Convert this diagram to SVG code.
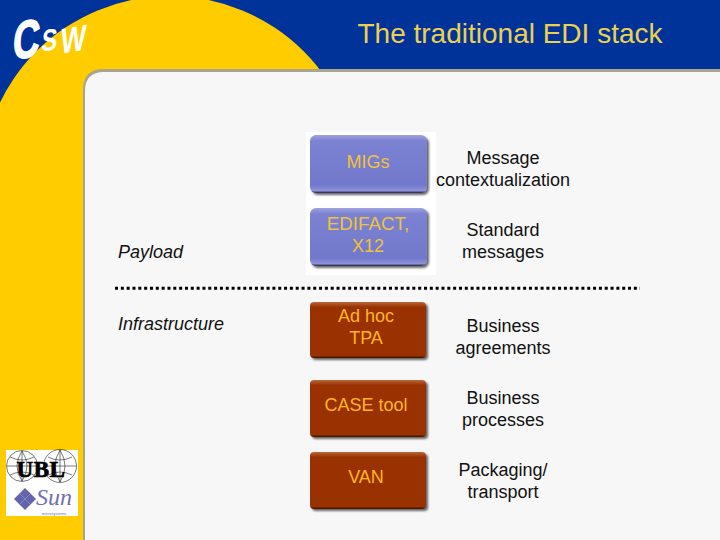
<svg xmlns="http://www.w3.org/2000/svg" width="720" height="540" viewBox="0 0 720 540">
<style>
text{font-family:"Liberation Sans",Arial,sans-serif;font-size:18px;text-anchor:middle;fill:#111}
.k{fill:#eec23c}
.o{fill:#ffb428}
.l{text-anchor:start;font-style:italic}
.g{fill:none;stroke:#222;stroke-width:.6}
.b{filter:url(#s)}
.c{font-weight:bold;text-anchor:start;fill:#fff}
</style>
<defs>
<linearGradient id="bl" x1="0" y1="0" x2="0" y2="1"><stop offset="0" stop-color="#9ea3de"/><stop offset=".1" stop-color="#7c82d2"/><stop offset=".86" stop-color="#7278cc"/><stop offset=".96" stop-color="#8d93da"/><stop offset="1" stop-color="#1e2040"/></linearGradient>
<linearGradient id="br" x1="0" y1="0" x2="0" y2="1"><stop offset="0" stop-color="#b8683c"/><stop offset=".09" stop-color="#993300"/><stop offset=".96" stop-color="#993300"/><stop offset="1" stop-color="#301000"/></linearGradient>
<filter id="s" x="-10%" y="-10%" width="125%" height="130%"><feDropShadow dx="2" dy="2" stdDeviation="1.2" flood-color="#000" flood-opacity=".6"/></filter>
</defs>
<g id="background">
<rect width="720" height="540" fill="#003399"/>
<circle cx="170" cy="185" r="189" fill="#ffcc00"/>
<rect x="0" y="103" width="100" height="437" fill="#ffcc00"/>
<path d="M83 540V90Q83 69 104 69H720V540Z" fill="#a8a490"/>
<path d="M85 540V91Q85 72 104 72H720V540Z" fill="#f7f7f7"/>
<rect x="306" y="132" width="130" height="143" fill="#fff"/>
</g>
<g id="logo-csw">
<text class="c" transform="translate(12 60) rotate(-10) skewX(-14) scale(.72 1)" style="font-size:52px;stroke:#fff;stroke-width:1.500">C</text>
<text class="c" transform="translate(41 52) rotate(-10) skewX(-14) scale(.8 1)" style="font-size:30px">S</text>
<text class="c" transform="translate(60 54) rotate(-10) skewX(-14) scale(.85 1.100)" style="font-size:32px">W</text>
</g>
<text id="title" x="510" y="43" style="font-size:28px;fill:#ecd050">The traditional EDI stack</text>
<g id="logo-ubl">
<rect x="6" y="450" width="72" height="66" fill="#fff"/>
<circle class="g" cx="22" cy="466" r="15.5"/><path class="g" d="M7 466H37M22 451V481M10 457Q22 463 34 457M10 475Q22 469 34 475M22 451Q12 466 22 481M22 451Q32 466 22 481"/>
<circle class="g" cx="60" cy="466" r="16.5"/><path class="g" d="M44 466H76M60 450V482M48 457Q60 463 72 457M48 475Q60 469 72 475M60 450Q50 466 60 482M60 450Q70 466 60 482"/>
<text x="41" y="477" style="font-family:'Liberation Serif',serif;font-weight:bold;font-size:23px;fill:#000;stroke:#000;stroke-width:.7;letter-spacing:.6px">UBL</text>
<path d="M25 488L36 499L25 510L14 499Z" fill="#6464ac"/>
<path d="M19.500 493.500L30.500 504.500M30.500 493.500L19.500 504.500" stroke="#a0a0d0" stroke-width=".6"/>
<text x="54" y="505" style="font-family:'Liberation Serif',serif;font-style:italic;font-size:24px;fill:#6f6fb8">Sun</text>
<text x="54" y="514.500" style="font-size:4px;fill:#6f6fb8">microsystems</text>
</g>
<g id="connectors">
<line x1="115" y1="288.300" x2="640" y2="288.300" stroke="#000" stroke-width="3" stroke-dasharray="3 2.830"/>
</g>
<g id="node-migs"><rect class="b" x="310" y="135" width="117" height="58" rx="6" fill="url(#bl)"/><text class="k" x="368" y="168">MIGs</text></g>
<g id="node-edifact"><rect class="b" x="310" y="208" width="117" height="58" rx="6" fill="url(#bl)"/><text class="k" x="368" y="230" style="font-size:18.800px">EDIFACT,</text><text class="k" x="368" y="252">X12</text></g>
<g id="node-tpa"><rect class="b" x="310" y="302" width="116" height="56" rx="4" fill="url(#br)"/><text class="o" x="366" y="322">Ad hoc</text><text class="o" x="366" y="344">TPA</text></g>
<g id="node-case"><rect class="b" x="310" y="380" width="116" height="57" rx="4" fill="url(#br)"/><text class="o" x="366" y="411">CASE tool</text></g>
<g id="node-van"><rect class="b" x="310" y="452" width="116" height="57" rx="4" fill="url(#br)"/><text class="o" x="366" y="483">VAN</text></g>
<g id="labels">
<text class="l" x="118" y="258">Payload</text>
<text class="l" x="118" y="330">Infrastructure</text>
<text x="503" y="164">Message</text><text x="503" y="186">contextualization</text>
<text x="503" y="236">Standard</text><text x="503" y="258">messages</text>
<text x="503" y="332">Business</text><text x="503" y="354">agreements</text>
<text x="503" y="404">Business</text><text x="503" y="426">processes</text>
<text x="503" y="476">Packaging/</text><text x="503" y="498">transport</text>
</g>
</svg>
